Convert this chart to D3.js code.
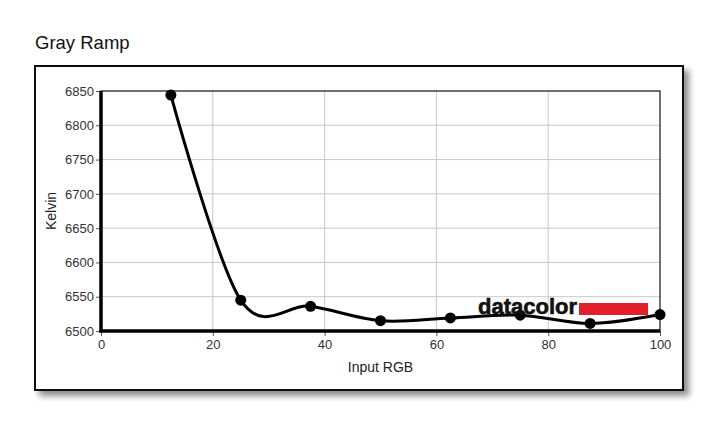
<!DOCTYPE html>
<html>
<head>
<meta charset="utf-8">
<script src="https://cdn.jsdelivr.net/npm/d3@7"></script>
<style>
  body { margin: 0; background: #fff; }
  svg text { font-family: "Liberation Sans", Arial, sans-serif; }
</style>
</head>
<body>
<svg id="chart" width="724" height="437"></svg>
<script>
// gray ramp measurements
var inputRGB = [12.5, 25, 37.5, 50, 62.5, 75, 87.5, 100];
var kelvin   = [6844, 6545, 6536, 6515, 6519, 6523, 6511, 6524];
var xTicks = [0, 20, 40, 60, 80, 100];
var yTicks = [6500, 6550, 6600, 6650, 6700, 6750, 6800, 6850];

var svg = d3.select("#chart");
var w = 724, h = 437;
var m = {left: 101, right: 64, top: 91, bottom: 106};

var x = d3.scaleLinear().domain([0, 100]).range([m.left, w - m.right]);
var y = d3.scaleLinear().domain([6500, 6850]).range([h - m.bottom, m.top]);

// shadow filter for the frame
var defs = svg.append("defs");
var f = defs.append("filter").attr("id", "shadow")
    .attr("x", "-5%").attr("y", "-5%").attr("width", "115%").attr("height", "120%");
f.append("feGaussianBlur").attr("in", "SourceAlpha").attr("stdDeviation", 3);
f.append("feOffset").attr("dx", 5).attr("dy", 5).attr("result", "b");
f.append("feComponentTransfer").append("feFuncA").attr("type", "linear").attr("slope", 0.45);
var fm = f.append("feMerge");
fm.append("feMergeNode");
fm.append("feMergeNode").attr("in", "SourceGraphic");

svg.append("text")
    .attr("x", 35).attr("y", 49)
    .attr("font-size", 18.5).attr("fill", "#111")
    .text("Gray Ramp");

svg.append("rect")
    .attr("x", 35).attr("y", 66).attr("width", 648).attr("height", 324)
    .attr("fill", "#fff").attr("stroke", "#111").attr("stroke-width", 2)
    .attr("filter", "url(#shadow)");

// grid
svg.append("g").selectAll("line")
    .data(xTicks.slice(1, -1))
    .enter().append("line")
    .attr("x1", function(d) { return x(d); }).attr("x2", function(d) { return x(d); })
    .attr("y1", y(6850)).attr("y2", y(6500))
    .attr("stroke", "#c8c8c8").attr("stroke-width", 1);

svg.append("g").selectAll("line")
    .data(yTicks.slice(1, -1))
    .enter().append("line")
    .attr("x1", x(0)).attr("x2", x(100))
    .attr("y1", function(d) { return y(d); }).attr("y2", function(d) { return y(d); })
    .attr("stroke", "#c8c8c8").attr("stroke-width", 1);

// plot border
svg.append("rect")
    .attr("x", x(0)).attr("y", y(6850))
    .attr("width", x(100) - x(0)).attr("height", y(6500) - y(6850))
    .attr("fill", "none").attr("stroke", "#111").attr("stroke-width", 1.2);

// axes
var yAxis = svg.append("g")
    .attr("transform", "translate(" + x(0) + ",0)")
    .call(d3.axisLeft(y).tickValues(yTicks).tickFormat(d3.format("d")).tickSize(5).tickPadding(2));
var xAxis = svg.append("g")
    .attr("transform", "translate(0," + y(6500) + ")")
    .call(d3.axisBottom(x).tickValues(xTicks).tickFormat(d3.format("d")).tickSize(5).tickPadding(4));

[xAxis, yAxis].forEach(function(a) {
  a.select(".domain").remove();
  a.selectAll("line").attr("stroke", "#555");
  a.selectAll("text").attr("font-size", 13).attr("fill", "#333")
      .attr("font-family", "Liberation Sans, Arial, sans-serif");
});

svg.append("line")
    .attr("x1", x(0)).attr("x2", x(0)).attr("y1", y(6850)).attr("y2", y(6500) + 1.5)
    .attr("stroke", "#000").attr("stroke-width", 3.5);
svg.append("line")
    .attr("x1", x(0) - 1.5).attr("x2", x(100)).attr("y1", y(6500)).attr("y2", y(6500))
    .attr("stroke", "#000").attr("stroke-width", 3.5);

svg.append("text")
    .attr("x", (x(0) + x(100)) / 2).attr("y", 372)
    .attr("text-anchor", "middle").attr("font-size", 14).attr("fill", "#222")
    .text("Input RGB");

svg.append("text")
    .attr("transform", "translate(56," + ((y(6500) + y(6850)) / 2) + ") rotate(-90)")
    .attr("text-anchor", "middle").attr("font-size", 14).attr("fill", "#222")
    .text("Kelvin");

// curve + points
var pts = inputRGB.map(function(v, i) { return [v, kelvin[i]]; });
var line = d3.line()
    .x(function(d) { return x(d[0]); })
    .y(function(d) { return y(d[1]); })
    .curve(d3.curveCardinal.tension(0));

svg.append("path")
    .datum(pts)
    .attr("d", line)
    .attr("fill", "none").attr("stroke", "#000").attr("stroke-width", 3);

svg.append("g").selectAll("circle")
    .data(pts)
    .enter().append("circle")
    .attr("cx", function(d) { return x(d[0]); })
    .attr("cy", function(d) { return y(d[1]); })
    .attr("r", 5.5).attr("fill", "#000");

// watermark
var logo = svg.append("g");
logo.append("rect")
    .attr("x", 579).attr("y", 303).attr("width", 69).attr("height", 12)
    .attr("fill", "#e21f2b");
logo.append("text")
    .attr("x", 478).attr("y", 314)
    .attr("font-size", 22).attr("font-weight", "bold").attr("fill", "#111")
    .attr("stroke", "#111").attr("stroke-width", 0.6)
    .attr("font-family", "DejaVu Sans, sans-serif")
    .attr("textLength", 99).attr("lengthAdjust", "spacingAndGlyphs")
    .text("datacolor");
</script>
</body>
</html>
